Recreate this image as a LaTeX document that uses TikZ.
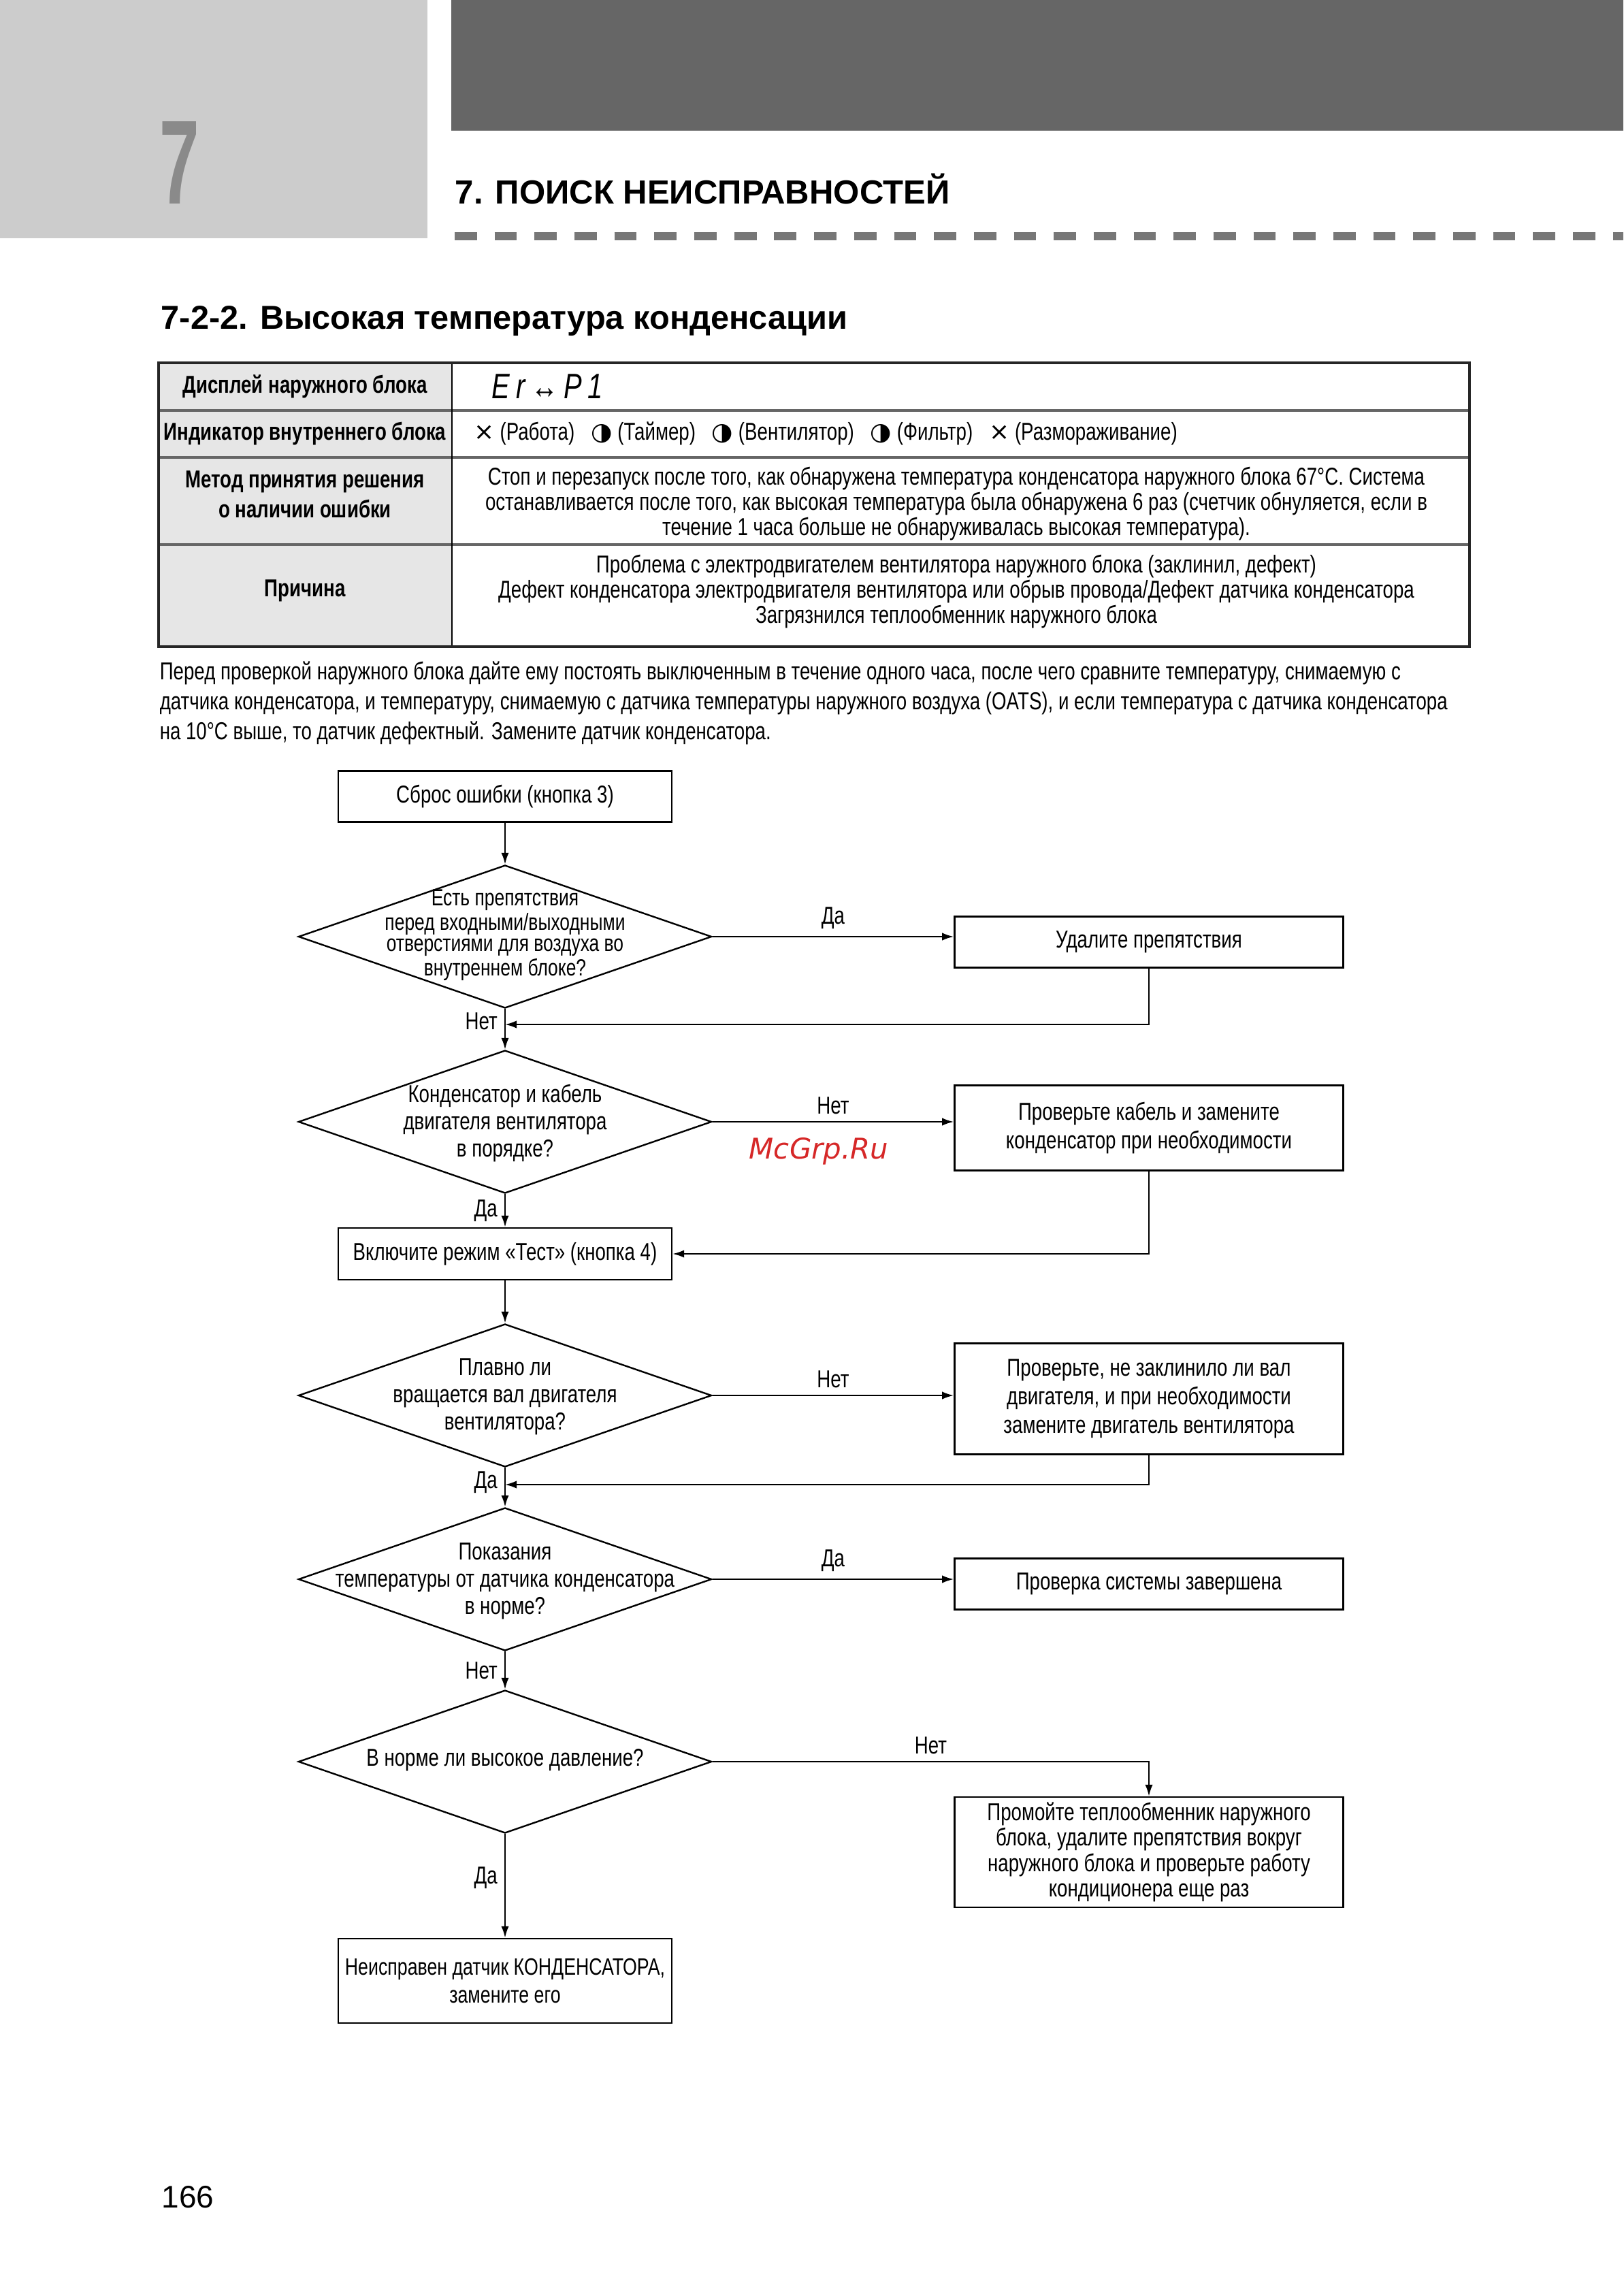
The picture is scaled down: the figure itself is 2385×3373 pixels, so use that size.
\documentclass[tikz,border=0pt]{standalone}
\usepackage{fontspec}
\setmainfont{Liberation Sans}
\newfontfamily\narrow{Liberation Sans}[FakeStretch=0.77]
\newfontfamily\bignarrow{Liberation Sans}[FakeStretch=0.6]
\newfontfamily\symfont{DejaVu Sans}
\usetikzlibrary{calc, positioning, shapes.geometric, arrows.meta}

\definecolor{hdrlight}{HTML}{CCCCCC}
\definecolor{hdrdark}{HTML}{666666}
\definecolor{dashgray}{HTML}{777777}
\definecolor{chapgray}{HTML}{8A8A8A}
\definecolor{cellgray}{HTML}{E6E6E6}
\definecolor{markred}{HTML}{D62828}

\tikzset{
  txt/.style={font=\narrow\fontsize{9}{10.5}\selectfont, align=center, inner sep=0pt},
  leftbox/.style={txt, draw, line width=0.6pt, minimum width=43.14mm},
  rightbox/.style={txt, draw, line width=0.6pt, minimum width=50.28mm},
  dec/.style={diamond, draw, line width=0.6pt, minimum width=53.45mm, minimum height=18.49mm, inner sep=0pt},
  lbl/.style={txt, inner sep=2.5pt},
  arr/.style={line width=0.6pt, -{Latex[length=1.5mm,width=1mm]}},
  cellhead/.style={font=\narrow\bfseries\fontsize{9}{11}\selectfont, align=center, inner sep=0pt},
  cell/.style={font=\narrow\fontsize{9}{9.2}\selectfont, align=center, inner sep=0pt},
}

\begin{document}
\begin{tikzpicture}[x=0.08805mm, y=-0.08805mm]
  \useasboundingbox (0,0) rectangle (2385,3373);

  % header
  \fill[hdrlight] (0,0) rectangle (628,350);
  \fill[hdrdark] (663,0) rectangle (2385,192);
  \draw[dashgray, line width=3.2pt, dash pattern=on 8.2pt off 6.5pt] (668,347) -- (2385,347);
  \node[anchor=base west, text=chapgray, inner sep=0pt] (Chap) at (234,300) {\bignarrow\bfseries\fontsize{44}{44}\selectfont 7};
  \node[anchor=base west, inner sep=0pt] (Title) at (668,300) {\bfseries\fontsize{12.3}{15}\selectfont 7. ПОИСК НЕИСПРАВНОСТЕЙ};
  \node[anchor=base west, inner sep=0pt] (Sect) at (236,484) {\bfseries\fontsize{12.2}{14}\selectfont 7-2-2. Высокая температура конденсации};

  % table
  \fill[cellgray] (233,533) rectangle (664,950);
  \foreach \y in {603,672,800}
    \draw[black!60, line width=1pt] (233,\y) -- (2159,\y);
  \draw[line width=0.5pt] (664,533) -- (664,950);
  \draw[black!85, line width=1.1pt] (233,533) rectangle (2159,950);

  \node[cellhead] (Head1) at (448,568) {Дисплей наружного блока};
  \node[cellhead] (Head2) at (448,637) {Индикатор внутреннего блока};
  \node[cellhead] (Head3) at (448,726) {Метод принятия решения\\о наличии ошибки};
  \node[cellhead] (Head4) at (448,868) {Причина};

  \node[anchor=west, inner sep=0pt] (Cell1) at (722,568) {\narrow\itshape\fontsize{13}{13}\selectfont E\,r\,↔\,P\,1};
  \node[cell, anchor=west] (Cell2) at (696,637) {{\symfont ×}~(Работа)\hspace{6pt}{\symfont ◑}~(Таймер)\hspace{6pt}{\symfont ◑}~(Вентилятор)\hspace{6pt}{\symfont ◑}~(Фильтр)\hspace{6pt}{\symfont ×}~(Размораживание)};
  \node[cell] (Cell3) at (1405,740) {Стоп и перезапуск после того, как обнаружена температура конденсатора наружного блока 67°C. Система\\останавливается после того, как высокая температура была обнаружена 6 раз (счетчик обнуляется, если в\\течение 1 часа больше не обнаруживалась высокая температура).};
  \node[cell] (Cell4) at (1405,869) {Проблема с электродвигателем вентилятора наружного блока (заклинил, дефект)\\Дефект конденсатора электродвигателя вентилятора или обрыв провода/Дефект датчика конденсатора\\Загрязнился теплообменник наружного блока};

  \node[anchor=north west, align=left, inner sep=0pt, font=\narrow\fontsize{9}{11}\selectfont] (Note) at (234,971) {Перед проверкой наружного блока дайте ему постоять выключенным в течение одного часа, после чего сравните температуру, снимаемую с\\датчика конденсатора, и температуру, снимаемую с датчика температуры наружного воздуха (OATS), и если температура с датчика конденсатора\\на 10°C выше, то датчик дефектный. Замените датчик конденсатора.};

  % flowchart
  \node[leftbox, minimum height=6.6mm] (Reset) at (742,1170) {Сброс ошибки (кнопка 3)};
  \node[dec] (Dec1) at (742,1376) {};
  \node[txt, font=\narrow\fontsize{8.6}{7.8}\selectfont] (Dec1t) at (742,1374) {Есть препятствия\\перед входными/выходными\\отверстиями для воздуха во\\внутреннем блоке?};
  \node[rightbox, minimum height=6.6mm] (Act1) at (1688,1384) {Удалите препятствия};

  \node[dec] (Dec2) at (742,1648) {};
  \node[txt, font=\narrow\fontsize{9}{10}\selectfont] (Dec2t) at (742,1650) {Конденсатор и кабель\\двигателя вентилятора\\в порядке?};
  \node[rightbox, minimum height=11mm] (Act2) at (1688,1657) {Проверьте кабель и замените\\конденсатор при необходимости};

  \node[leftbox, minimum height=6.69mm] (Test) at (742,1842) {Включите режим «Тест» (кнопка 4)};

  \node[dec] (Dec3) at (742,2050) {};
  \node[txt, font=\narrow\fontsize{9}{10}\selectfont] (Dec3t) at (742,2052) {Плавно ли\\вращается вал двигателя\\вентилятора?};
  \node[rightbox, minimum height=14.35mm] (Act3) at (1688,2055) {Проверьте, не заклинило ли вал\\двигателя, и при необходимости\\замените двигатель вентилятора};

  \node[dec] (Dec4) at (742,2320) {};
  \node[txt, font=\narrow\fontsize{9}{10}\selectfont] (Dec4t) at (742,2323) {Показания\\температуры от датчика конденсатора\\в норме?};
  \node[rightbox, minimum height=6.6mm] (Done) at (1688,2327) {Проверка системы завершена};

  \node[dec] (Dec5) at (742,2588) {};
  \node[txt] (Dec5t) at (742,2586) {В норме ли высокое давление?};
  \node[rightbox, minimum height=14.26mm, font=\narrow\fontsize{9}{9.4}\selectfont] (Flush) at (1688,2721) {Промойте теплообменник наружного\\блока, удалите препятствия вокруг\\наружного блока и проверьте работу\\кондиционера еще раз};

  \node[leftbox, minimum height=10.92mm, font=\narrow\fontsize{8.7}{10.5}\selectfont] (Sensor) at (742,2910) {Неисправен датчик КОНДЕНСАТОРА,\\замените его};

  \coordinate (Join1) at (742,1505);
  \coordinate (Join3) at (742,2181);

  \draw[arr] (Reset) -- (Dec1);
  \draw[arr] (Dec1.east) -- node[lbl, above] (Yes1) {Да} (Dec1.east -| Act1.west);
  \draw[arr] (Act1.south) |- (Join1);
  \draw[arr] (Dec1.south) -- node[lbl, left, pos=0.3] (No1) {Нет} (Dec2.north);

  \draw[arr] (Dec2.east) -- node[lbl, above] (No2) {Нет} (Dec2.east -| Act2.west);
  \draw[arr] (Act2.south) |- (Test.east);
  \draw[arr] (Dec2.south) -- node[lbl, left] (Yes2) {Да} (Test.north);

  \draw[arr] (Test.south) -- (Dec3.north);
  \draw[arr] (Dec3.east) -- node[lbl, above] (No3) {Нет} (Dec3.east -| Act3.west);
  \draw[arr] (Act3.south) |- (Join3);
  \draw[arr] (Dec3.south) -- node[lbl, left, pos=0.38] (Yes3) {Да} (Dec4.north);

  \draw[arr] (Dec4.east) -- node[lbl, above] (Yes4) {Да} (Dec4.east -| Done.west);
  \draw[arr] (Dec4.south) -- node[lbl, left] (No4) {Нет} (Dec5.north);

  \draw[arr] (Dec5.east) -| node[lbl, above, pos=0.25] (No5) {Нет} (Flush.north);
  \draw[arr] (Dec5.south) -- node[lbl, left, pos=0.42] (Yes5) {Да} (Sensor.north);

  \node[anchor=base west, text=markred, inner sep=0pt] (Mark) at (1100,1702) {\symfont\itshape\fontsize{10.5}{12}\selectfont McGrp.Ru};
  \node[anchor=base west, inner sep=0pt] (Page) at (237,3243) {\fontsize{11.5}{13}\selectfont 166};
\end{tikzpicture}
\end{document}
